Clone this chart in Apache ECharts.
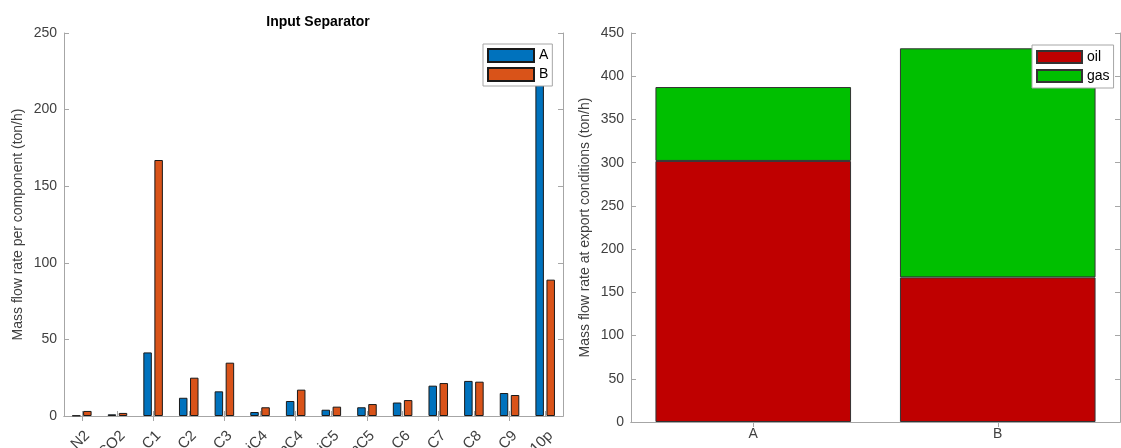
<!DOCTYPE html>
<html>
<head>
<meta charset="utf-8">
<script src="https://cdn.jsdelivr.net/npm/echarts@6/dist/echarts.min.js"></script>
<style>
html,body{margin:0;padding:0;background:#fff;}
#chart{width:1121px;height:448px;}
</style>
</head>
<body>
<div id="chart"></div>
<script>
var components = ['N2','CO2','C1','C2','C3','iC4','nC4','iC5','nC5','C6','C7','C8','C9','C10p'];
var flowA = [0.3, 1.1, 41.5, 11.9, 16.1, 2.6, 9.8, 4.1, 5.7, 8.8, 19.8, 22.9, 15.0, 235];
var flowB = [3.3, 2.0, 167.1, 25.0, 34.8, 5.7, 17.2, 6.1, 7.8, 10.4, 21.5, 22.4, 13.7, 89.0];
var leftTicks = {min: 0, max: 250, interval: 50};

var cases = ['A','B'];
var oil = [302, 167.3];
var gas = [85.5, 265];
var rightTicks = {min: 0, max: 450, interval: 50};

var FONT = 'Liberation Sans, Arial, sans-serif';
var TXT = '#404040';
var AX = '#a6a6a6';

function yMain(idx, t, name) {
  return {
    type: 'value', gridIndex: idx, min: t.min, max: t.max, interval: t.interval, position: 'left',
    name: name, nameLocation: 'middle', nameGap: 39,
    nameTextStyle: {color: TXT, fontSize: 14, fontFamily: FONT},
    axisLine: {show: true, lineStyle: {color: AX}},
    axisTick: {show: true, inside: true, length: 5, lineStyle: {color: AX}},
    axisLabel: {color: TXT, fontSize: 14, fontFamily: FONT, margin: 7},
    splitLine: {show: false}
  };
}
function yMirror(idx, t) {
  return {
    type: 'value', gridIndex: idx, min: t.min, max: t.max, interval: t.interval, position: 'right',
    axisLine: {show: true, lineStyle: {color: AX}},
    axisTick: {show: true, inside: true, length: 5, lineStyle: {color: AX}},
    axisLabel: {show: false}, splitLine: {show: false}
  };
}
function xMain(idx, cats, label) {
  return {
    type: 'category', gridIndex: idx, data: cats, position: 'bottom',
    axisLine: {show: true, lineStyle: {color: AX}},
    axisTick: {show: true, inside: true, length: 5, alignWithLabel: true, lineStyle: {color: AX}},
    axisLabel: Object.assign({color: TXT, fontFamily: FONT, interval: 0}, label),
    splitLine: {show: false}
  };
}
function xMirror(idx, cats) {
  return {
    type: 'category', gridIndex: idx, data: cats, position: 'top',
    axisLine: {show: true, lineStyle: {color: AX}},
    axisTick: {show: true, inside: true, length: 5, alignWithLabel: true, lineStyle: {color: AX}},
    axisLabel: {show: false}, splitLine: {show: false}
  };
}

var chart = echarts.init(document.getElementById('chart'), null, {renderer: 'canvas'});
chart.setOption({
  animation: false,
  backgroundColor: '#fff',
  title: {
    text: 'Input Separator', left: 313, top: 10, textAlign: 'center',
    textStyle: {fontSize: 14, fontWeight: 'bold', color: '#000', fontFamily: FONT}
  },
  grid: [
    {left: 64, right: 558, top: 33, bottom: 32, containLabel: false, outerBoundsMode: 'none'},
    {left: 631, right: 1, top: 33, bottom: 26, containLabel: false, outerBoundsMode: 'none'}
  ],
  legend: [
    {
      data: ['A','B'], orient: 'vertical', left: 483, top: 44,
      itemWidth: 46, itemHeight: 13, itemGap: 4, padding: [4, 4, 4, 4],
      backgroundColor: '#fff', borderColor: '#a6a6a6', borderWidth: 1, borderRadius: 0,
      textStyle: {color: '#000', fontSize: 14, fontFamily: FONT},
      icon: 'rect', selectedMode: false
    },
    {
      data: ['oil','gas'], orient: 'vertical', left: 1032, top: 45,
      itemWidth: 45, itemHeight: 12, itemGap: 5, padding: [5, 4, 5, 4],
      backgroundColor: '#fff', borderColor: '#a6a6a6', borderWidth: 1, borderRadius: 0,
      textStyle: {color: '#000', fontSize: 14, fontFamily: FONT},
      icon: 'rect', selectedMode: false
    }
  ],
  xAxis: [
    xMain(0, components, {fontSize: 15, rotate: 45, margin: 12, verticalAlign: 'top'}), xMirror(0, components),
    xMain(1, cases, {fontSize: 14, rotate: 0, margin: 5}), xMirror(1, cases)
  ],
  yAxis: [
    yMain(0, leftTicks, 'Mass flow rate per component (ton/h)'), yMirror(0, leftTicks),
    yMain(1, rightTicks, 'Mass flow rate at export conditions (ton/h)'), yMirror(1, rightTicks)
  ],
  series: [
    {name: 'A', type: 'bar', xAxisIndex: 0, yAxisIndex: 0, data: flowA, barWidth: 8.5, barGap: '30%',
     itemStyle: {color: '#0072BD', borderColor: '#1a1a1a', borderWidth: 1}},
    {name: 'B', type: 'bar', xAxisIndex: 0, yAxisIndex: 0, data: flowB, barWidth: 8.5, barGap: '30%',
     itemStyle: {color: '#D95319', borderColor: '#1a1a1a', borderWidth: 1}},
    {name: 'oil', type: 'bar', stack: 'exp', xAxisIndex: 2, yAxisIndex: 2, data: oil, barWidth: '80%',
     itemStyle: {color: '#BF0000', borderColor: '#333', borderWidth: 1}},
    {name: 'gas', type: 'bar', stack: 'exp', xAxisIndex: 2, yAxisIndex: 2, data: gas, barWidth: '80%',
     itemStyle: {color: '#00BF00', borderColor: '#333', borderWidth: 1}}
  ]
});
</script>
</body>
</html>
